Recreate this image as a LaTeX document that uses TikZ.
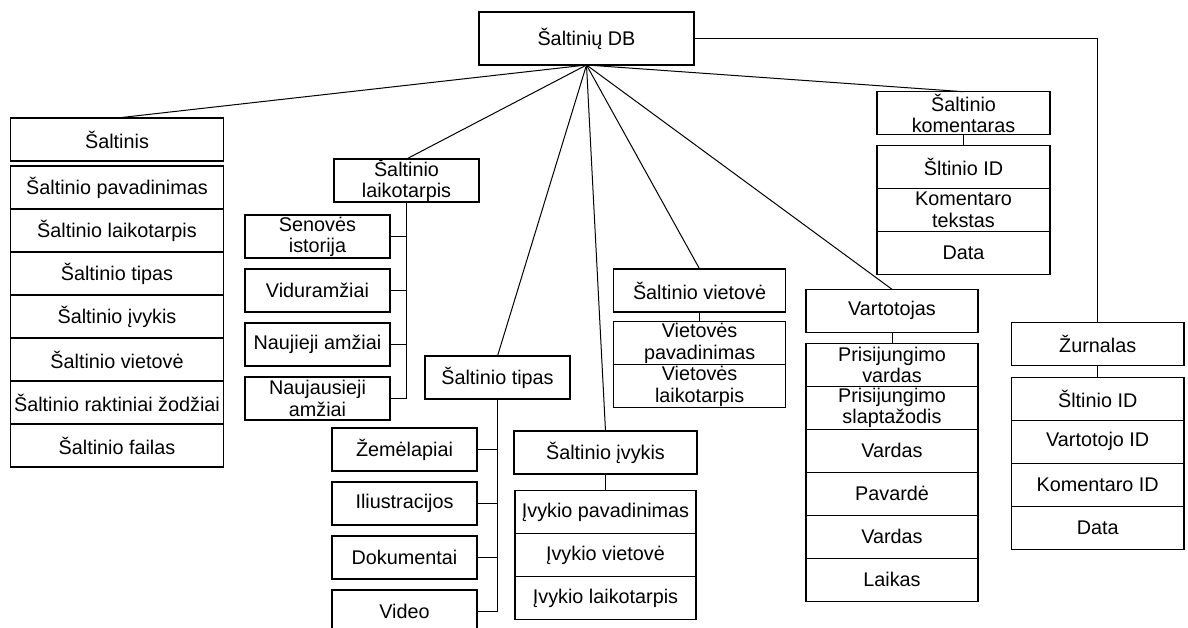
\documentclass[tikz,border=0pt]{standalone}
\usepackage{fontspec}
\setmainfont{Liberation Sans}
\usetikzlibrary{positioning}

\tikzset{
  ent/.style={draw,line width=0.6pt,inner sep=0pt,outer sep=0pt,align=center,
    minimum width=#1,minimum height=21.5pt,anchor=north west,
    font=\fontsize{9.9}{10.6}\selectfont},
  ent/.default=72.5pt
}

\begin{document}
\begin{tikzpicture}[x=0.5pt,y=-0.5pt,node distance=0pt]
                \useasboundingbox (0,0) rectangle (1188,627);
                \node[ent=107.5pt,minimum height=26.5pt] (db) at (479,12) {Šaltinių DB};
                \node[ent=106.5pt] (src) at (10.5,118) {Šaltinis};
                \node[ent=106.5pt] (src1) [below=2.5pt of src] {Šaltinio pavadinimas};
                \node[ent=106.5pt] (src2) [below=of src1] {Šaltinio laikotarpis};
                \node[ent=106.5pt] (src3) [below=of src2] {Šaltinio tipas};
                \node[ent=106.5pt] (src4) [below=of src3] {Šaltinio įvykis};
                \node[ent=106.5pt] (src5) [below=of src4] {Šaltinio vietovė};
                \node[ent=106.5pt] (src6) [below=of src5] {Šaltinio raktiniai žodžiai};
                \node[ent=106.5pt] (src7) [below=of src6] {Šaltinio failas};
                \node[ent] (lkt) at (334,159) {Šaltinio\\laikotarpis};
                \node[ent] (lkt1) at (245,215) {Senovės\\istorija};
                \node[ent] (lkt2) [below=5.5pt of lkt1] {Viduramžiai};
                \node[ent] (lkt3) [below=5.5pt of lkt2] {Naujieji amžiai};
                \node[ent] (lkt4) [below=5.5pt of lkt3] {Naujausieji\\amžiai};
                \node[ent] (tip) at (425,356) {Šaltinio tipas};
                \node[ent] (tip1) at (332,428) {Žemėlapiai};
                \node[ent] (tip2) [below=5.5pt of tip1] {Iliustracijos};
                \node[ent] (tip3) [below=5.5pt of tip2] {Dokumentai};
                \node[ent] (tip4) [below=5.5pt of tip3] {Video};
                \node[ent=91.5pt] (ivk) at (514,431) {Šaltinio įvykis};
                \node[ent=90.5pt] (ivk1) [below=8.3pt of ivk] {Įvykio pavadinimas};
                \node[ent=90.5pt] (ivk2) [below=of ivk1] {Įvykio vietovė};
                \node[ent=90.5pt] (ivk3) [below=of ivk2] {Įvykio laikotarpis};
                \node[ent=86pt] (vtv) at (613.6,269) {Šaltinio vietovė};
                \node[ent=86pt] (vtv1) [below=4.9pt of vtv] {Vietovės\\pavadinimas};
                \node[ent=86pt] (vtv2) [below=of vtv1] {Vietovės\\laikotarpis};
                \node[ent=86pt] (usr) at (806,289.3) {Vartotojas};
                \node[ent=86pt] (usr1) [below=5.5pt of usr] {Prisijungimo\\vardas};
                \node[ent=86pt] (usr2) [below=of usr1] {Prisijungimo\\slaptažodis};
                \node[ent=86pt] (usr3) [below=of usr2] {Vardas};
                \node[ent=86pt] (usr4) [below=of usr3] {Pavardė};
                \node[ent=86pt] (usr5) [below=of usr4] {Vardas};
                \node[ent=86pt] (usr6) [below=of usr5] {Laikas};
                \node[ent=86.5pt] (kom) at (877,91.7) {Šaltinio\\komentaras};
                \node[ent=86.5pt] (kom1) [below=5.3pt of kom] {Šltinio ID};
                \node[ent=86.5pt] (kom2) [below=of kom1] {Komentaro\\tekstas};
                \node[ent=86.5pt] (kom3) [below=of kom2] {Data};
                \node[ent=86.3pt] (zur) at (1011.4,322.7) {Žurnalas};
                \node[ent=86.3pt] (zur1) [below=5.8pt of zur] {Šltinio ID};
                \node[ent=86.3pt] (zur2) [below=of zur1] {Vartotojo ID};
                \node[ent=86.3pt] (zur3) [below=of zur2] {Komentaro ID};
                \node[ent=86.3pt] (zur4) [below=of zur3] {Data};
                \path[draw,line width=0.5pt]
                (db.south) edge (src.north)
                (db.south) edge (lkt.north)
                (db.south) edge (tip.north)
                (db.south) edge (ivk.north)
                (db.south) edge (vtv.north)
                (db.south) edge (usr.north)
                (db.south) edge (kom.north)
                (ivk.south) edge (ivk1.north)
                (vtv.south) edge (vtv1.north)
                (usr.south) edge (usr1.north)
                (kom.south) edge (kom1.north)
                (zur.south) edge (zur1.north);
                \draw[line width=0.5pt] (db.east) -| (zur.north);
                \foreach \i in {1,...,4} {
                  \draw[line width=0.5pt] (lkt.south) |- (lkt\i.east);
                  \draw[line width=0.5pt] (tip.south) |- (tip\i.east);
                }
            \end{tikzpicture}
\end{document}
